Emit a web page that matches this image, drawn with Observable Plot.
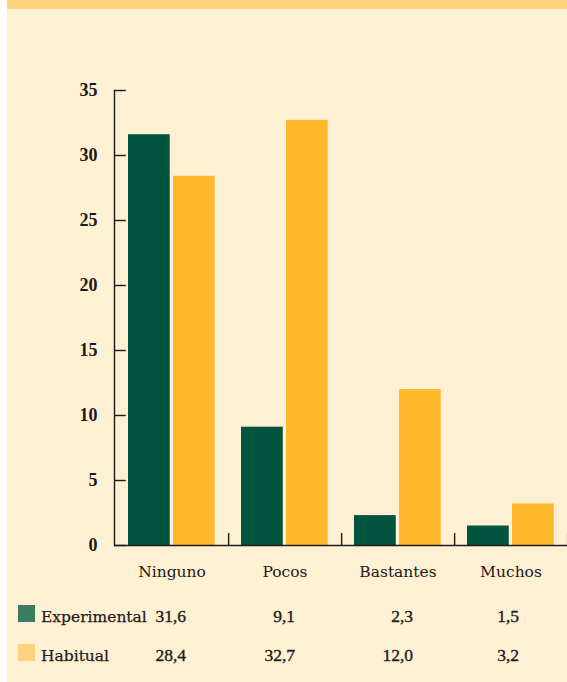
<!DOCTYPE html>
<html>
<head>
<meta charset="utf-8">
<script src="https://cdn.jsdelivr.net/npm/d3@7"></script>
<script src="https://cdn.jsdelivr.net/npm/@observablehq/plot@0.6"></script>
<style>
  html, body { margin: 0; padding: 0; background: #ffffff; }
  #panel {
    position: absolute; left: 7px; top: 0; width: 560px; height: 682px;
    background: #FEF0D2; border-top: 9px solid #FFD27B; box-sizing: border-box;
  }
  #panel svg { display: block; }
</style>
</head>
<body>
<div id="panel"></div>
<script>
// Respuestas por categoría para los dos grupos
const categories = ["Ninguno", "Pocos", "Bastantes", "Muchos"];
const seriesNames = ["Experimental", "Habitual"];
const experimental = [31.6, 9.1, 2.3, 1.5];
const habitual = [28.4, 32.7, 12.0, 3.2];
const yTicks = [0, 5, 10, 15, 20, 25, 30, 35];

const ink = "#1E1A1B";
const barColors = ["#01553F", "#FDB82C"];
const swatchColors = ["#3B7B64", "#FED27C"];
const wordFont = "DejaVu Serif";
const numberFont = "Liberation Serif";

// Plot geometry
const W = 560, H = 581, ML = 107, MR = 0, MT = 81, MB = 45;
const yMax = 35;
const bw = (W - ML - MR) / categories.length;   // width of one category band
const py = (H - MT - MB) / yMax;                // pixels per unit on y
const barW = 42, barPad = 13, gap = 3;

const rows = categories.flatMap((c, i) => [
  {category: c, series: seriesNames[0], value: experimental[i]},
  {category: c, series: seriesNames[1], value: habitual[i]}
]);

const chart = Plot.plot({
  width: W,
  height: H,
  marginLeft: ML,
  marginRight: MR,
  marginTop: MT,
  marginBottom: MB,
  style: {background: "transparent", color: ink, overflow: "visible", fontFamily: wordFont},
  x: {domain: categories, padding: 0},
  y: {domain: [0, yMax]},
  marks: [
    Plot.barY(rows.filter(d => d.series === seriesNames[0]), {
      x: "category", y: "value", fill: barColors[0],
      insetLeft: barPad, insetRight: bw - barPad - barW
    }),
    Plot.barY(rows.filter(d => d.series === seriesNames[1]), {
      x: "category", y: "value", fill: barColors[1],
      insetLeft: barPad + barW + gap, insetRight: bw - barPad - 2 * barW - gap
    }),
    // y axis line and inward ticks
    Plot.frame({anchor: "left", stroke: ink, strokeWidth: 1.4}),
    Plot.tickY(yTicks, {y: d => d, x: () => categories[0], insetRight: bw - 11, stroke: ink, strokeWidth: 1.4}),
    Plot.axisY(yTicks, {
      tickSize: 0, tickPadding: 17, label: null,
      fontSize: 18, fontFamily: numberFont, fontWeight: "bold", fill: ink
    }),
    // baseline and category separators
    Plot.ruleY([0], {stroke: ink, strokeWidth: 1.6}),
    Plot.ruleX(categories, {x: d => d, dx: bw / 2, y1: 0, y2: 12 / py, stroke: ink, strokeWidth: 1.4}),
    Plot.axisX({
      tickSize: 0, tickPadding: 20, label: null,
      fontSize: 15.5, fontFamily: wordFont, fill: ink,
      stroke: ink, strokeWidth: 0.25
    })
  ]
});
document.getElementById("panel").appendChild(chart);

// Value table with colour keys below the chart
const fmt = v => d3.format(".1f")(v).replace(".", ",");
const valueRight = [179, 288, 406, 512];
const legend = d3.select("#panel").append("svg")
  .attr("width", W).attr("height", 682 - 9 - H);
const table = [experimental, habitual];
seriesNames.forEach((name, r) => {
  const base = 31.5 + r * 39;
  legend.append("rect")
    .attr("x", 11).attr("y", base - 16.5).attr("width", 17).attr("height", 17)
    .attr("fill", swatchColors[r]);
  legend.append("text")
    .attr("x", 34).attr("y", base)
    .attr("font-family", wordFont).attr("font-size", 15.5).attr("fill", ink)
    .attr("stroke", ink).attr("stroke-width", 0.25)
    .text(name);
  table[r].forEach((v, i) => {
    legend.append("text")
      .attr("x", valueRight[i]).attr("y", base)
      .attr("text-anchor", "end")
      .attr("font-family", numberFont).attr("font-size", 17.5).attr("fill", ink)
      .attr("stroke", ink).attr("stroke-width", 0.35)
      .text(fmt(v));
  });
});
</script>
</body>
</html>
